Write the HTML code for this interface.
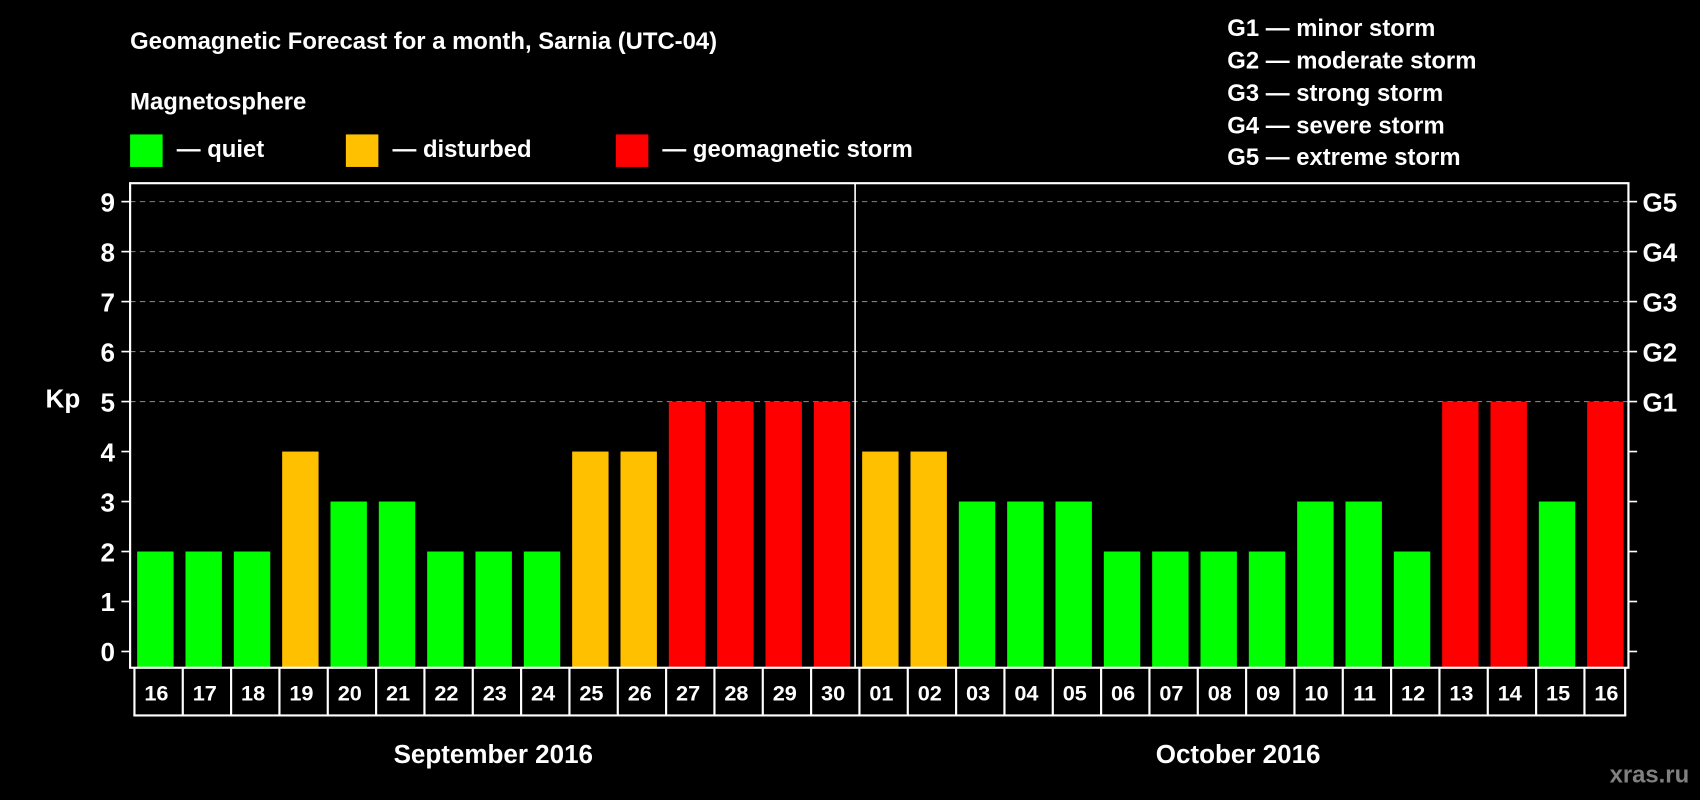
<!DOCTYPE html>
<html><head><meta charset="utf-8"><style>
html,body{margin:0;padding:0;background:#000;}
svg{display:block;font-family:"Liberation Sans",sans-serif;font-weight:bold;}
</style></head><body>
<svg id="chart" width="1700" height="800" viewBox="0 0 1568 738" preserveAspectRatio="none" xmlns="http://www.w3.org/2000/svg">
<rect width="1568" height="738" fill="#000"/>
<text x="120" y="45" fill="#fff" font-size="22">Geomagnetic Forecast for a month, Sarnia (UTC-04)</text>
<text x="120" y="101" fill="#fff" font-size="22">Magnetosphere</text>
<g><rect x="120" y="124" width="30" height="30" fill="#00ff00"/><text x="163" y="145" fill="#fff" font-size="22">— quiet</text></g>
<g><rect x="319" y="124" width="30" height="30" fill="#ffc000"/><text x="362" y="145" fill="#fff" font-size="22">— disturbed</text></g>
<g><rect x="568" y="124" width="30" height="30" fill="#ff0000"/><text x="611" y="145" fill="#fff" font-size="22">— geomagnetic storm</text></g>
<g fill="#fff" font-size="22">
<text x="1132" y="33">G1 — minor storm</text>
<text x="1132" y="63">G2 — moderate storm</text>
<text x="1132" y="93">G3 — strong storm</text>
<text x="1132" y="123">G4 — severe storm</text>
<text x="1132" y="152">G5 — extreme storm</text>
</g>
<text x="58" y="376" fill="#fff" font-size="24" text-anchor="middle">Kp</text>
<g id="grid"></g><g id="bars"></g><g id="axes"></g><g id="dates"></g>
<text x="455" y="704" fill="#fff" font-size="24" text-anchor="middle">September 2016</text>
<text x="1142" y="704" fill="#fff" font-size="24" text-anchor="middle">October 2016</text>
<text x="1558" y="722" fill="#808080" font-size="22" text-anchor="end">xras.ru</text>
</svg>
<script>
const days = ["16","17","18","19","20","21","22","23","24","25","26","27","28","29","30","01","02","03","04","05","06","07","08","09","10","11","12","13","14","15","16"];
const kpValues = [2,2,2,4,3,3,2,2,2,4,4,5,5,5,5,4,4,3,3,3,2,2,2,2,3,3,2,5,5,3,5];
const yTicks = [0,1,2,3,4,5,6,7,8,9];
const gLabels = ["G1","G2","G3","G4","G5"];
const NS="http://www.w3.org/2000/svg";
const L=120,R=1502,T=169,B=616,Y0=601,Y9=186;
const cw=(R-L)/days.length;
const y=v=>Y0-(Y0-Y9)*v/9;
const x=i=>L+i*cw;
function mk(t,a,p){const e=document.createElementNS(NS,t);for(const k in a)e.setAttribute(k,a[k]);p.appendChild(e);return e;}
const grid=document.getElementById('grid'),bars=document.getElementById('bars'),axes=document.getElementById('axes'),dates=document.getElementById('dates');
yTicks.forEach(v=>{
  if(v>=5){const g=mk('line',{x1:L,x2:R,y1:y(v),y2:y(v),stroke:'#808080','stroke-width':1,'stroke-dasharray':'5,4'},grid);
  
  }
  mk('line',{x1:L-8,x2:L,y1:y(v),y2:y(v),stroke:'#fff','stroke-width':1.5},axes);
  mk('line',{x1:R,x2:R+8,y1:y(v),y2:y(v),stroke:'#fff','stroke-width':1.5},axes);
  const t=mk('text',{x:L-14,y:y(v)+9,fill:'#fff','font-size':24,'text-anchor':'end'},axes);
  t.textContent=v;
  
  
});
gLabels.forEach((g,i)=>{
  const t=mk('text',{x:R+13,y:y(i+5)+9,fill:'#fff','font-size':24},axes);
  t.textContent=g;
  
  
});
const col=v=>v>=5?'#ff0000':(v>=4?'#ffc000':'#00ff00');
kpValues.forEach((v,i)=>{
  const r=mk('rect',{x:x(i)+6.5,y:y(v),width:cw-11,height:B-y(v),fill:col(v)},bars);
  
  
});
mk('rect',{x:L,y:T,width:R-L,height:B-T,fill:'none',stroke:'#fff','stroke-width':2},axes);
mk('line',{x1:x(15),x2:x(15),y1:T,y2:B,stroke:'#fff','stroke-width':1.5},axes);
days.forEach((d,i)=>{
  mk('line',{x1:x(i)+4,x2:x(i)+4,y1:B,y2:660,stroke:'#fff','stroke-width':2},dates);
  const t=mk('text',{x:x(i)+cw/2+2,y:646,fill:'#fff','font-size':20,'text-anchor':'middle'},dates);
  t.textContent=d;
  
  
});
mk('line',{x1:R-3,x2:R-3,y1:B,y2:660,stroke:'#fff','stroke-width':2},dates);
mk('line',{x1:x(0)+3,x2:R-2,y1:660,y2:660,stroke:'#fff','stroke-width':2},dates);
</script>
</body></html>
